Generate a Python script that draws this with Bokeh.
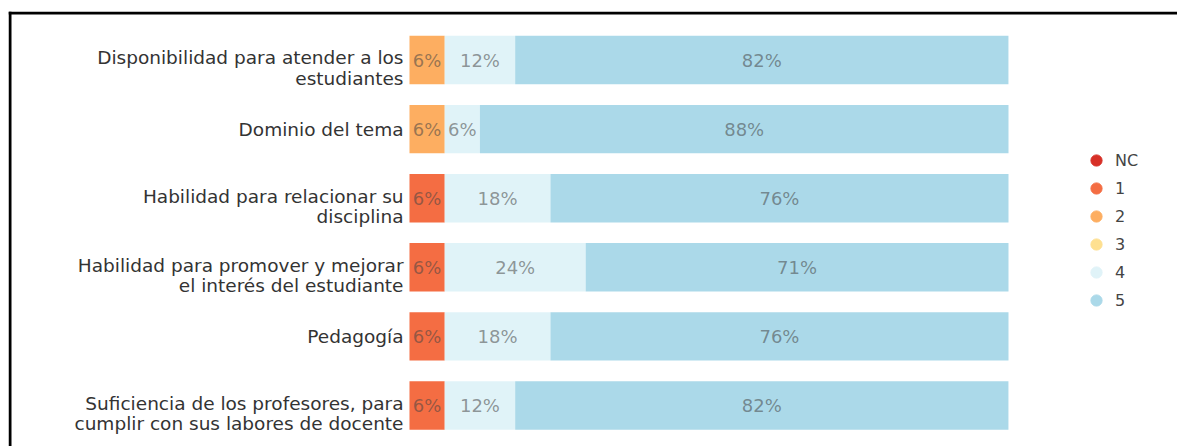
from bokeh.plotting import figure
from bokeh.models import ColumnDataSource, Range1d, Legend, LegendItem, Span
from bokeh.core.properties import value
from bokeh.embed import file_html
from bokeh.resources import INLINE

# ---------------- data ----------------
categories = [
    "Disponibilidad para atender a los\nestudiantes",
    "Dominio del tema",
    "Habilidad para relacionar su\ndisciplina",
    "Habilidad para promover y mejorar\nel interés del estudiante",
    "Pedagogía",
    "Suficiencia de los profesores, para\ncumplir con sus labores de docente",
]
levels = ["NC", "1", "2", "3", "4", "5"]
val_nc = [0, 0, 0, 0, 0, 0]
val_1 = [0, 0, 5.88, 5.88, 5.88, 5.88]
val_2 = [5.88, 5.88, 0, 0, 0, 0]
val_3 = [0, 0, 0, 0, 0, 0]
val_4 = [11.76, 5.88, 17.65, 23.53, 17.65, 11.76]
val_5 = [82.35, 88.24, 76.47, 70.59, 76.47, 82.35]
colors = ["#d73027", "#f46d43", "#fdae61", "#fee090", "#e0f3f8", "#abd9e9"]

# ---------------- layout ----------------
W, H = 1177, 446
BL, BT = 8, 11          # frame offset (left / top) -> frame border lines
FW, FH = W - BL, H - BT
PX_X = 5.99      # px per percent
X0_PX = 409 - BL      # frame px of 0 %
ROW_PX = 69.1         # px per category row
ROW0_PX = 59.5 - BT   # frame px of first row centre
FONT_NAME = "DejaVu Sans"
FONT = value(FONT_NAME)

x_start = -X0_PX / PX_X
x_end = (FW - X0_PX) / PX_X
y_start = (FH - ROW0_PX) / ROW_PX
y_end = -ROW0_PX / ROW_PX

p = figure(width=W, height=H, output_backend="svg", toolbar_location=None,
           x_range=Range1d(x_start, x_end), y_range=Range1d(y_start, y_end),
           x_axis_location=None, y_axis_location=None, min_border=0)
p.min_border_left = BL
p.min_border_top = BT
p.min_border_right = 0
p.min_border_bottom = 0
p.grid.visible = False
p.outline_line_color = None
p.background_fill_color = "white"
p.border_fill_color = "white"

series = [val_nc, val_1, val_2, val_3, val_4, val_5]
data = {"idx": list(range(len(categories)))}
for name, vals in zip(levels, series):
    data[name] = vals
src = ColumnDataSource(data)

p.hbar_stack(levels, y="idx", height=0.70, fill_color=colors, line_color=None, source=src)

# segment labels
lx, ly, lt = [], [], []
for i in range(len(categories)):
    left = 0.0
    for vals in series:
        v = vals[i]
        if v > 0:
            lx.append(left + v / 2)
            ly.append(i)
            lt.append(f"{round(v)}%")
        left += v
p.text(x="x", y="y", text="t", source=ColumnDataSource(dict(x=lx, y=ly, t=lt)),
       text_align="center", text_baseline="middle", text_font=FONT,
       text_font_size="18px", text_color="#444444", text_alpha=0.55)

# category labels
offs = [8 if "\n" in c else 0 for c in categories]
p.text(x="x", y="y", text="t", y_offset="o",
       source=ColumnDataSource(dict(x=[0] * len(categories), y=list(range(len(categories))),
                                    t=categories, o=offs)),
       x_offset=-6, text_align="right", text_baseline="middle", text_font=FONT,
       text_font_size="18.5px", text_color="#333333", text_line_height=0.97)

# legend (renderers hold no visible point)
nan = float("nan")
items = []
for lvl, col in zip(levels, colors):
    r = p.scatter(x=[nan], y=[nan], marker="circle", fill_color=col, line_color=col)
    items.append(LegendItem(label=lvl, renderers=[r]))
legend = Legend(items=items, location=(1082 - BL, 132), glyph_width=28, glyph_height=28,
                spacing=0, padding=0, margin=0, label_standoff=5,
                label_text_font=FONT_NAME, label_text_font_size="16px",
                label_text_color="#444444", background_fill_alpha=0,
                border_line_alpha=0)
p.add_layout(legend)

# frame lines (top and left), drawn just inside the frame edge
p.add_layout(Span(location=y_end + 1.5 / ROW_PX, dimension="width",
                  line_color="black", line_width=3))
p.add_layout(Span(location=x_start + 1.5 / PX_X, dimension="height",
                  line_color="black", line_width=3))

open("out.html", "w").write(file_html(p, INLINE))
